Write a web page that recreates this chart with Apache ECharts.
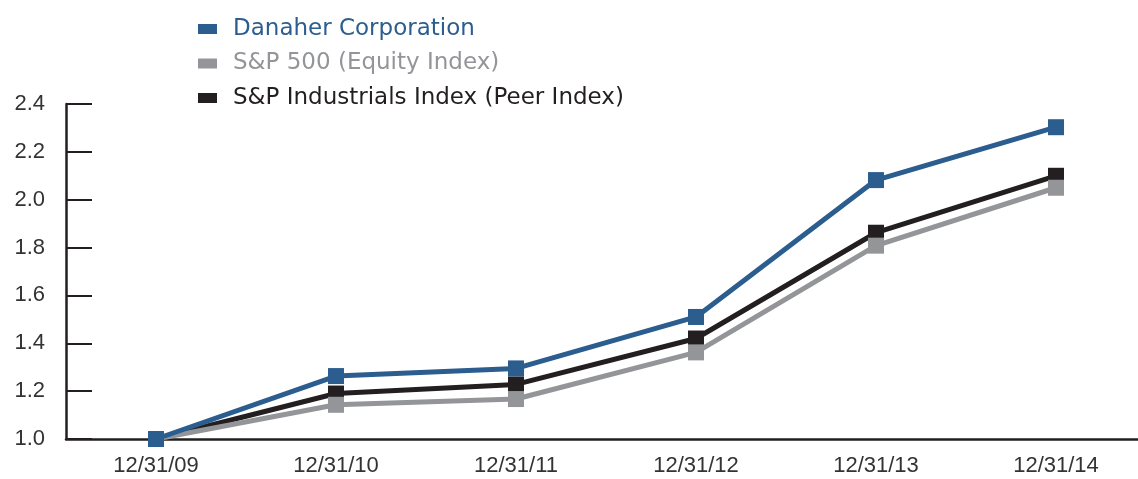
<!DOCTYPE html>
<html>
<head>
<meta charset="utf-8">
<script src="https://cdn.jsdelivr.net/npm/echarts@6/dist/echarts.min.js"></script>
<style>
  html, body { margin: 0; padding: 0; background: #fff; }
  #chart { width: 1138px; height: 479px; }
</style>
</head>
<body>
<div id="chart"></div>
<script>
const categories = ['12/31/09', '12/31/10', '12/31/11', '12/31/12', '12/31/13', '12/31/14']
const danaher = [1.0, 1.263, 1.295, 1.51, 2.082, 2.303]
const sp500 = [1.0, 1.143, 1.167, 1.362, 1.808, 2.05]
const industrials = [1.0, 1.19, 1.228, 1.42, 1.862, 2.1]

const BLUE = '#2c5d8f'
const GRAY = '#939598'
const BLACK = '#231f20'
const LEGEND_FONT = 'DejaVu Sans'
const AXIS_FONT = 'Liberation Sans'

const chart = echarts.init(document.getElementById('chart'))

function lineSeries(name, data, color, z) {
  return {
    name,
    type: 'line',
    data,
    z,
    symbol: 'rect',
    symbolSize: 16,
    lineStyle: { color, width: 5 },
    itemStyle: { color },
    emphasis: { disabled: true },
  }
}

chart.setOption({
  animation: false,
  backgroundColor: '#fff',
  legend: {
    orient: 'vertical',
    left: 198,
    top: 17,
    padding: 0,
    itemGap: 10.5,
    itemWidth: 19,
    itemHeight: 10,
    icon: 'rect',
    selectedMode: false,
    textStyle: { fontFamily: LEGEND_FONT, fontSize: 23, lineHeight: 24, padding: [0, 0, 0, 11] },
    data: [
      { name: 'Danaher Corporation', itemStyle: { color: BLUE }, textStyle: { color: BLUE } },
      { name: 'S&P 500 (Equity Index)', itemStyle: { color: GRAY }, textStyle: { color: GRAY } },
      { name: 'S&P Industrials Index (Peer Index)', itemStyle: { color: BLACK }, textStyle: { color: BLACK } },
    ],
  },
  // the plot runs a little past the right edge of the page, as in the original
  grid: { left: 66, top: 104, bottom: 40, width: 1080, outerBoundsMode: 'none', containLabel: false },
  xAxis: {
    type: 'category',
    data: categories,
    boundaryGap: true,
    axisLine: { lineStyle: { color: BLACK, width: 2.5 } },
    axisTick: { inside: true, length: 10, lineStyle: { color: BLACK, width: 2 } },
    axisLabel: { color: '#333', fontFamily: AXIS_FONT, fontSize: 22, margin: 16 },
  },
  yAxis: {
    type: 'value',
    min: 1.0,
    max: 2.4,
    interval: 0.2,
    axisLine: { show: true, lineStyle: { color: BLACK, width: 2.5 } },
    axisTick: { show: true, inside: true, length: 26, lineStyle: { color: BLACK, width: 2 } },
    splitLine: { show: false },
    axisLabel: {
      color: '#333',
      fontFamily: AXIS_FONT,
      fontSize: 22,
      margin: 21,
      formatter: v => v.toFixed(1),
    },
  },
  series: [
    lineSeries('S&P Industrials Index (Peer Index)', industrials, BLACK, 2),
    lineSeries('S&P 500 (Equity Index)', sp500, GRAY, 3),
    lineSeries('Danaher Corporation', danaher, BLUE, 4),
  ],
})
</script>
</body>
</html>
